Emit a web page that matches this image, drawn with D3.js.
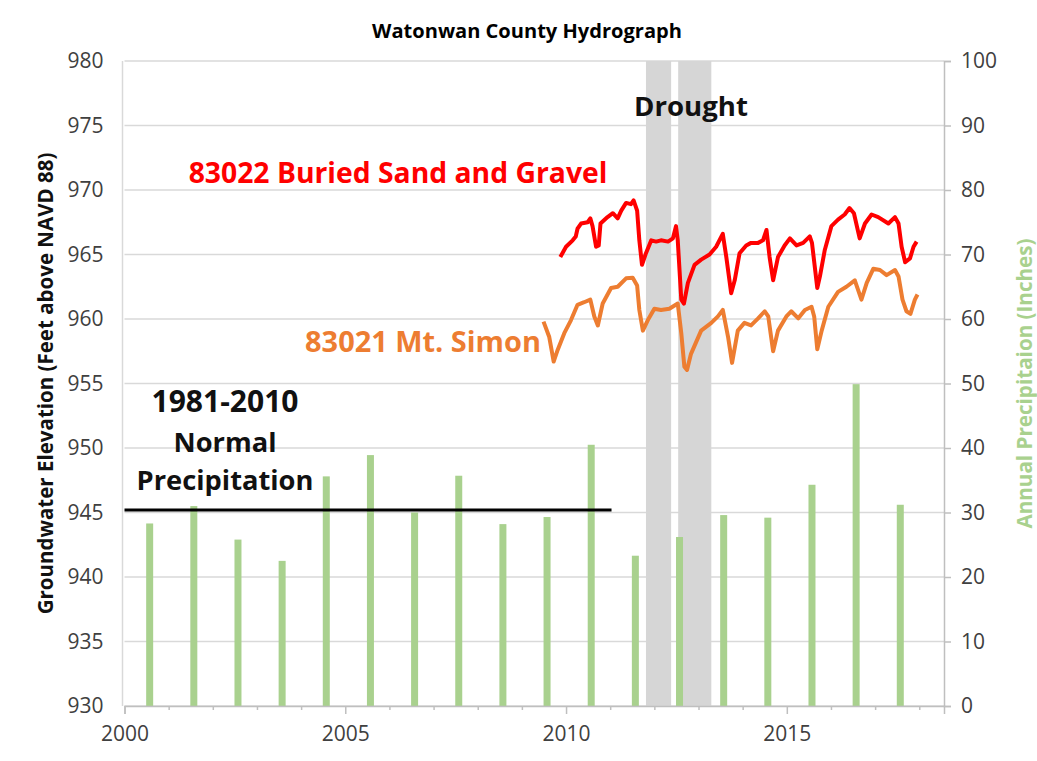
<!DOCTYPE html>
<html>
<head>
<meta charset="utf-8">
<script src="https://cdn.jsdelivr.net/npm/d3@7"></script>
<style>
  body { margin: 0; background: #fff; }
  text { font-family: "Open Sans", sans-serif; }
</style>
</head>
<body>
<div id="wrapper"></div>
<script>
// annual precipitation (inches), one bar per year
const precipYears = d3.range(2000, 2018);
const precipValues = [28.3, 31.0, 25.8, 22.5, 35.6, 38.9, 30.0, 35.7, 28.2, 29.3, 40.5, 23.3, 26.2, 29.6, 29.2, 34.3, 49.9, 31.2];

// 1981-2010 normal precipitation
const normalPrecip = 30.4;
const normalSpan = [2000, 2011.03];

// drought periods (decimal years)
const droughts = [[2011.81, 2012.38], [2012.54, 2013.29]];

// well 83022 buried sand and gravel [decimal year, elevation ft]
const sandGravel = [
  [2009.87,964.8],[2010.0,965.6],[2010.15,966.1],[2010.22,966.4],[2010.26,967.0],[2010.34,967.4],[2010.49,967.5],
  [2010.55,967.8],[2010.60,967.2],[2010.68,965.6],[2010.74,965.7],[2010.78,967.4],[2010.94,967.9],[2011.06,968.2],
  [2011.17,967.8],[2011.25,968.4],[2011.36,969.0],[2011.47,968.9],[2011.53,969.2],[2011.61,968.4],[2011.66,966.1],
  [2011.72,964.2],[2011.81,965.1],[2011.93,966.1],[2012.04,966.0],[2012.15,966.1],[2012.31,966.0],[2012.42,966.25],
  [2012.49,967.2],[2012.53,966.1],[2012.61,961.5],[2012.67,961.2],[2012.76,962.8],[2012.91,964.2],[2013.06,964.6],
  [2013.25,965.0],[2013.40,965.6],[2013.52,966.4],[2013.55,966.6],[2013.63,964.8],[2013.74,962.0],[2013.82,963.0],
  [2013.93,965.1],[2014.08,965.7],[2014.19,965.9],[2014.35,965.9],[2014.46,966.1],[2014.54,966.9],[2014.61,964.8],
  [2014.69,963.0],[2014.80,964.8],[2014.95,965.7],[2015.07,966.25],[2015.22,965.7],[2015.37,965.9],[2015.52,966.4],
  [2015.57,965.9],[2015.69,962.4],[2015.75,963.3],[2015.86,965.35],[2016.01,967.2],[2016.16,967.7],[2016.31,968.1],
  [2016.42,968.6],[2016.52,968.2],[2016.65,966.25],[2016.77,967.4],[2016.92,968.1],[2017.07,967.9],[2017.30,967.4],
  [2017.45,967.9],[2017.53,967.4],[2017.60,965.6],[2017.68,964.4],[2017.79,964.7],[2017.87,965.6],[2017.94,966.0]
];

// well 83021 Mt. Simon
const mtSimon = [
  [2009.49,959.8],[2009.62,958.6],[2009.72,956.7],[2009.81,957.6],[2009.96,958.9],[2010.11,959.9],[2010.26,961.1],
  [2010.41,961.3],[2010.55,961.5],[2010.64,960.2],[2010.72,959.5],[2010.83,961.2],[2011.02,962.4],[2011.17,962.5],
  [2011.36,963.15],[2011.51,963.2],[2011.61,962.6],[2011.66,960.7],[2011.74,959.1],[2011.85,959.9],[2012.00,960.8],
  [2012.15,960.7],[2012.34,960.8],[2012.53,961.2],[2012.61,958.9],[2012.68,956.3],[2012.74,956.05],[2012.83,957.3],
  [2013.06,959.1],[2013.29,959.7],[2013.44,960.2],[2013.55,960.7],[2013.67,958.6],[2013.76,956.6],[2013.89,959.1],
  [2014.04,959.7],[2014.19,959.5],[2014.35,960.05],[2014.50,960.6],[2014.58,960.2],[2014.69,957.5],[2014.80,959.1],
  [2014.99,960.2],[2015.10,960.6],[2015.26,960.05],[2015.41,960.7],[2015.56,960.95],[2015.62,960.2],[2015.69,957.65],
  [2015.79,959.1],[2015.94,960.95],[2016.16,962.1],[2016.35,962.5],[2016.54,963.0],[2016.69,961.5],[2016.81,962.8],
  [2016.96,963.9],[2017.11,963.8],[2017.26,963.4],[2017.45,963.8],[2017.53,963.3],[2017.62,961.5],[2017.71,960.6],
  [2017.80,960.4],[2017.90,961.5],[2017.96,961.9]
];

const xTicks = [2000, 2005, 2010, 2015];
const xMinorTicks = d3.range(2001, 2019).filter(d => d % 5 !== 0);
const leftTicks = d3.range(930, 981, 5);
const rightTicks = d3.range(0, 101, 10);

const W = 1037, H = 761;
const margin = {top: 61, right: 93, bottom: 55, left: 124.5};
const width = W - margin.left - margin.right;
const height = H - margin.top - margin.bottom;

const svg = d3.select("#wrapper").append("svg")
  .attr("width", W)
  .attr("height", H);

const g = svg.append("g")
  .attr("transform", `translate(${margin.left},${margin.top})`);

const xScale = d3.scaleLinear().domain([2000, 2018.56]).range([0, width]);
const yLeft = d3.scaleLinear().domain([930, 980]).range([height, 0]);
const yRight = d3.scaleLinear().domain([0, 100]).range([height, 0]);

const grey = "#d9d9d9";
const barOffset = 0.57;

// make a text fit a measured width
function fit(t, w) {
  const len = t.node().getComputedTextLength();
  const fs = parseFloat(t.attr("font-size"));
  t.attr("font-size", fs * w / len);
  return t;
}

// gridlines
g.append("g").selectAll("line")
  .data(leftTicks)
  .join("line")
  .attr("x1", 0).attr("x2", width)
  .attr("y1", d => yLeft(d)).attr("y2", d => yLeft(d))
  .attr("stroke", grey)
  .attr("stroke-width", 1.5);

// plot left border
g.append("line")
  .attr("x1", -2).attr("x2", -2).attr("y1", 0).attr("y2", height)
  .attr("stroke", grey).attr("stroke-width", 1.5);

// drought bands
g.append("g").selectAll("rect")
  .data(droughts)
  .join("rect")
  .attr("x", d => xScale(d[0]))
  .attr("width", d => xScale(d[1]) - xScale(d[0]))
  .attr("y", 0)
  .attr("height", height)
  .attr("fill", "#d6d6d6");

// precipitation bars
g.append("g").selectAll("rect")
  .data(precipYears)
  .join("rect")
  .attr("x", (d) => xScale(d + barOffset) - 3.5)
  .attr("width", 7)
  .attr("y", (d, i) => yRight(precipValues[i]))
  .attr("height", (d, i) => height - yRight(precipValues[i]))
  .attr("fill", "#a9d18e");

// normal precipitation line
g.append("line")
  .attr("x1", xScale(normalSpan[0]))
  .attr("x2", xScale(normalSpan[1]))
  .attr("y1", yRight(normalPrecip))
  .attr("y2", yRight(normalPrecip))
  .attr("stroke", "black")
  .attr("stroke-width", 3);

// hydrograph lines
const line = d3.line()
  .x(d => xScale(d[0]))
  .y(d => yLeft(d[1]));

g.append("path")
  .datum(mtSimon)
  .attr("d", line)
  .attr("fill", "none")
  .attr("stroke", "#ed7d31")
  .attr("stroke-width", 4)
  .attr("stroke-linejoin", "round");

g.append("path")
  .datum(sandGravel)
  .attr("d", line)
  .attr("fill", "none")
  .attr("stroke", "#ff0000")
  .attr("stroke-width", 4)
  .attr("stroke-linejoin", "round");

// axes
const xAxis = g.append("g")
  .attr("transform", `translate(0,${height})`)
  .call(d3.axisBottom(xScale).tickValues(xTicks).tickFormat(d3.format("d")).tickSize(8).tickPadding(12));

g.append("g")
  .attr("transform", `translate(0,${height})`)
  .call(d3.axisBottom(xScale).tickValues(xMinorTicks).tickFormat("").tickSize(4))
  .call(a => a.select(".domain").remove());

const leftAxis = g.append("g")
  .call(d3.axisLeft(yLeft).tickValues(leftTicks).tickSize(0).tickPadding(21));
leftAxis.select(".domain").remove();

const rightAxis = g.append("g")
  .attr("transform", `translate(${width},0)`)
  .call(d3.axisRight(yRight).tickValues(rightTicks).tickSize(7).tickPadding(10));

g.selectAll(".domain, .tick line").attr("stroke", "#bfbfbf").attr("stroke-width", 1.5);
g.selectAll(".tick text")
  .attr("font-size", 21)
  .attr("fill", "#404040")
  .attr("font-family", "Open Sans, sans-serif");
xAxis.selectAll(".tick text").attr("font-size", 21);

// titles
fit(svg.append("text")
  .attr("x", 527).attr("y", 38)
  .attr("text-anchor", "middle")
  .attr("font-weight", "bold")
  .attr("font-size", 18)
  .text("Watonwan County Hydrograph"), 310);

fit(svg.append("text")
  .attr("transform", `translate(53,${margin.top + height / 2}) rotate(-90)`)
  .attr("text-anchor", "middle")
  .attr("font-weight", "bold")
  .attr("font-size", 16)
  .attr("fill", "#111")
  .text("Groundwater Elevation (Feet above NAVD 88)"), 462);

fit(svg.append("text")
  .attr("transform", `translate(1032,${margin.top + height / 2}) rotate(-90)`)
  .attr("text-anchor", "middle")
  .attr("font-weight", "bold")
  .attr("font-size", 16)
  .attr("fill", "#a9d18e")
  .text("Annual Precipitaion (Inches)"), 290);

// annotations
const notes = [
  {text: "Drought", x: 691, y: 116, w: 114, color: "#111"},
  {text: "83022 Buried Sand and Gravel", x: 398, y: 183, w: 419, color: "#ff0000"},
  {text: "83021 Mt. Simon", x: 423, y: 352, w: 236, color: "#ed7d31"},
  {text: "1981-2010", x: 225, y: 412, w: 147, color: "#111"},
  {text: "Normal", x: 225, y: 452, w: 103, color: "#111"},
  {text: "Precipitation", x: 225, y: 490, w: 177, color: "#111"}
];

notes.forEach(n => {
  fit(svg.append("text")
    .attr("x", n.x).attr("y", n.y)
    .attr("text-anchor", "middle")
    .attr("font-weight", "bold")
    .attr("font-size", 24)
    .attr("fill", n.color)
    .text(n.text), n.w);
});
</script>
</body>
</html>
